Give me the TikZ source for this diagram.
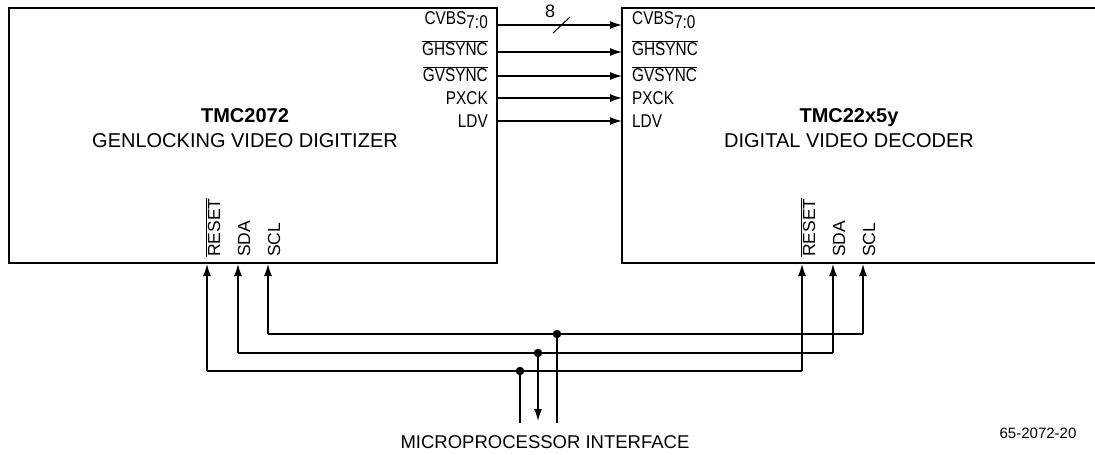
\documentclass[tikz,border=0pt]{standalone}
\usepackage{fontspec}
\setmainfont{Liberation Sans}
\usetikzlibrary{arrows.meta}
\newcommand{\ovl}[1]{$\overline{\hbox{#1}}$}
\newcommand{\pl}[1]{\scalebox{0.83}[1]{#1}}
\begin{document}
\begin{tikzpicture}[x=1pt,y=-1pt,
  chip/.style={draw,line width=2.4pt,rectangle,inner sep=0pt,minimum width=488pt,minimum height=255pt},
  tip/.style={-{Latex[length=12pt,width=8pt]}},
  sig/.style={line width=1.4pt,tip},
  bus/.style={line width=1.4pt},
  pinr/.style={anchor=east,inner sep=0pt,font=\fontsize{18.5}{19}\selectfont},
  pinl/.style={anchor=west,inner sep=0pt,font=\fontsize{18.5}{19}\selectfont},
  pinv/.style={anchor=west,rotate=90,inner sep=0pt,font=\fontsize{17.5}{18}\selectfont},
  title/.style={align=center,inner sep=0pt,font=\fontsize{20}{25}\selectfont},
  jdot/.style={circle,fill,inner sep=0pt,minimum size=8.5pt}]
\useasboundingbox (0,0) rectangle (1095,455);
% chips
\node[chip] (A) at (253,135.5) {};
\node[chip] (B) at (866,135.5) {};
\node[title] (At) at (245,128) {\textbf{TMC2072}\\GENLOCKING VIDEO DIGITIZER};
\node[title] (Bt) at (849,128) {\textbf{TMC22x5y}\\DIGITAL VIDEO DECODER};
% pin labels left chip
\node[pinr] (a1) at (488,20) {\pl{CVBS\raisebox{-0.45ex}{7:0}}};
\node[pinr] (a2) at (488,48) {\pl{\ovl{GHSYNC}}};
\node[pinr] (a3) at (488,74) {\pl{\ovl{GVSYNC}}};
\node[pinr] (a4) at (488,98) {\pl{PXCK}};
\node[pinr] (a5) at (488,121) {\pl{LDV}};
% pin labels right chip
\node[pinl] (b1) at (632,20) {\pl{CVBS\raisebox{-0.45ex}{7:0}}};
\node[pinl] (b2) at (632,48) {\pl{\ovl{GHSYNC}}};
\node[pinl] (b3) at (632,74) {\pl{\ovl{GVSYNC}}};
\node[pinl] (b4) at (632,98) {\pl{PXCK}};
\node[pinl] (b5) at (632,121) {\pl{LDV}};
% signals
\foreach \i/\y in {1/25,2/52,3/76,4/98,5/121}{
  \coordinate (ao\i) at (497,\y);
  \coordinate (bi\i) at (622,\y);
  \draw[sig] (ao\i) -- (bi\i);
}
\coordinate (s1) at (553,33);
\coordinate (s2) at (570,17);
\draw[line width=1pt] (s1) -- (s2);
\node[inner sep=0pt,font=\fontsize{18}{18}\selectfont] (n8) at (550,11) {8};
% vertical pin labels
\node[pinv] (ar) at (213,257) {\ovl{RESET}};
\node[pinv] (ad) at (244,257) {SDA};
\node[pinv] (ac) at (274,257) {SCL};
\node[pinv] (br) at (808,257) {\ovl{RESET}};
\node[pinv] (bd) at (839,257) {SDA};
\node[pinv] (bc) at (869,257) {SCL};
% bus
\coordinate (pAr) at (207,264);
\coordinate (pAd) at (238,264);
\coordinate (pAc) at (268,264);
\coordinate (pBr) at (802,264);
\coordinate (pBd) at (833,264);
\coordinate (pBc) at (863,264);
\coordinate (cAr) at (207,371);
\coordinate (cAd) at (238,353);
\coordinate (cAc) at (268,334);
\coordinate (cBr) at (802,371);
\coordinate (cBd) at (833,353);
\coordinate (cBc) at (863,334);
\draw[bus,tip] (cAr) -- (pAr);
\draw[bus,tip] (cAd) -- (pAd);
\draw[bus,tip] (cAc) -- (pAc);
\draw[bus] (cAr) -- (cBr);
\draw[bus] (cAd) -- (cBd);
\draw[bus] (cAc) -- (cBc);
\draw[bus,tip] (cBr) -- (pBr);
\draw[bus,tip] (cBd) -- (pBd);
\draw[bus,tip] (cBc) -- (pBc);
% junctions
\node[jdot] (jr) at (520,371) {};
\node[jdot] (jd) at (538,353) {};
\node[jdot] (jc) at (557,334) {};
\coordinate (er) at (520,423);
\coordinate (ed) at (538,421);
\coordinate (ec) at (557,423);
\draw[bus] (jr.center) -- (er);
\draw[bus,tip] (jd.center) -- (ed);
\draw[bus] (jc.center) -- (ec);
\node[inner sep=0pt,font=\fontsize{18.5}{19}\selectfont] (mpi) at (545,442) {MICROPROCESSOR INTERFACE};
\node[inner sep=0pt,font=\fontsize{15}{16}\selectfont] (fig) at (1038,433) {65-2072-20};
\end{tikzpicture}
\end{document}
